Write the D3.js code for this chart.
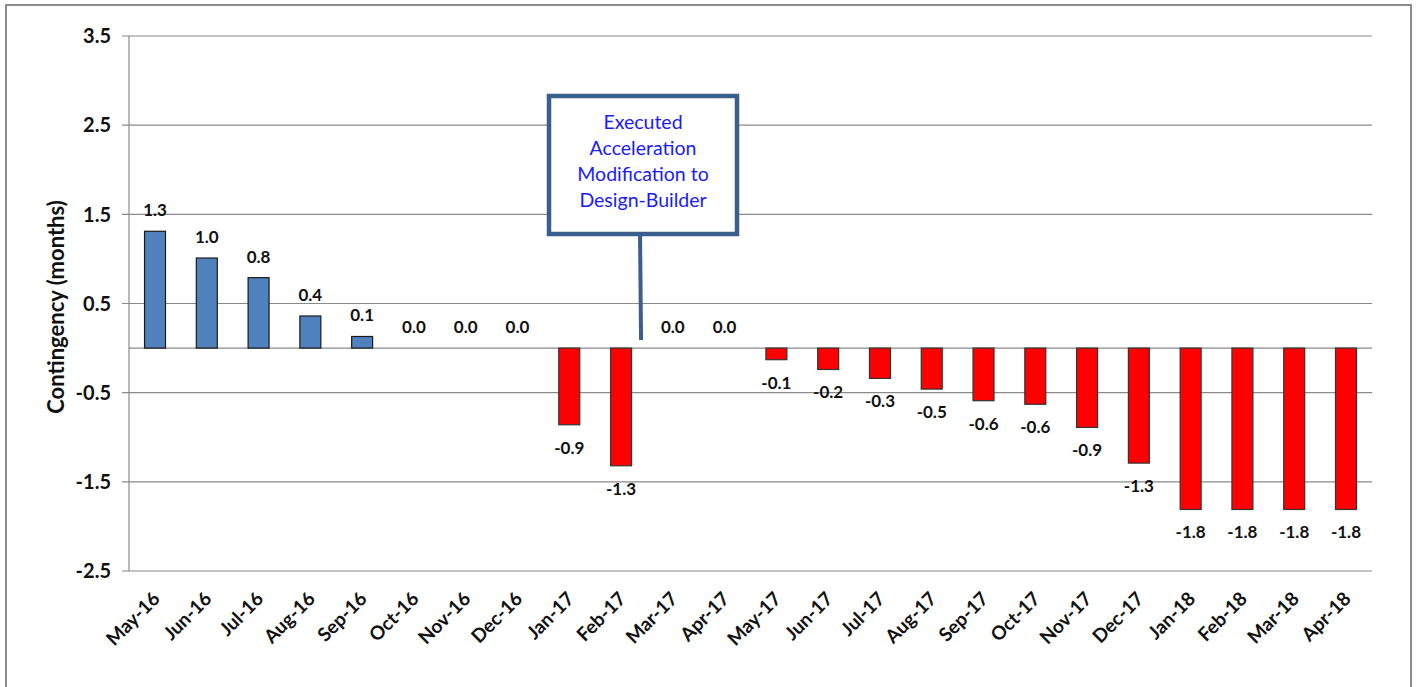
<!DOCTYPE html>
<html>
<head>
<meta charset="utf-8">
<script src="https://cdn.jsdelivr.net/npm/d3@7"></script>
<style>
  body { margin: 0; background: #fff; }
  svg { display: block; font-family: "Lato", "Open Sans", sans-serif; }
</style>
</head>
<body>
<svg id="chart" width="1417" height="687"></svg>
<script>
const months = ["May-16", "Jun-16", "Jul-16", "Aug-16", "Sep-16", "Oct-16", "Nov-16", "Dec-16",
  "Jan-17", "Feb-17", "Mar-17", "Apr-17", "May-17", "Jun-17", "Jul-17", "Aug-17", "Sep-17",
  "Oct-17", "Nov-17", "Dec-17", "Jan-18", "Feb-18", "Mar-18", "Apr-18"];
const contingency = [1.31, 1.01, 0.79, 0.36, 0.13, 0, 0, 0,
  -0.86, -1.32, 0, 0, -0.13, -0.24, -0.34, -0.46, -0.59,
  -0.63, -0.89, -1.29, -1.81, -1.81, -1.81, -1.81];
const yTicks = [3.5, 2.5, 1.5, 0.5, -0.5, -1.5, -2.5];
const noteLines = ["Executed", "Acceleration", "Modification to", "Design-Builder"];
const noteMonth = "Feb-17";

const svg = d3.select("#chart");

// outer frame like the pasted chart
svg.append("rect")
  .attr("x", 6).attr("y", 5).attr("width", 1405).attr("height", 700)
  .attr("fill", "#fff").attr("stroke", "#8c8c8c").attr("stroke-width", 2);

const plotLeft = 129, plotRight = 1372, plotTop = 36, plotBottom = 571;

const x = d3.scaleBand().domain(months).range([plotLeft, plotRight]).paddingInner(0.595).paddingOuter(0.3);
const y = d3.scaleLinear().domain([-2.5, 3.5]).range([plotBottom, plotTop]);

// gridlines
svg.append("g").selectAll("line").data(yTicks).join("line")
  .attr("x1", plotLeft - 7).attr("x2", plotRight)
  .attr("y1", d => y(d)).attr("y2", d => y(d))
  .attr("stroke", "#8a8a8a").attr("stroke-width", 1.2);

// zero line
svg.append("line")
  .attr("x1", plotLeft).attr("x2", plotRight).attr("y1", y(0)).attr("y2", y(0))
  .attr("stroke", "#8a8a8a").attr("stroke-width", 1.2);

// vertical axis line
svg.append("line")
  .attr("x1", plotLeft).attr("x2", plotLeft).attr("y1", plotTop).attr("y2", plotBottom)
  .attr("stroke", "#8a8a8a").attr("stroke-width", 1.2);

// y tick labels
svg.append("g").selectAll("text").data(yTicks).join("text")
  .attr("x", 111).attr("y", d => y(d))
  .attr("dy", "0.36em")
  .attr("text-anchor", "end")
  .attr("font-size", 20).attr("font-weight", "bold").attr("fill", "#111")
  .text(d => d.toFixed(1));

// y axis title
svg.append("text")
  .attr("transform", "translate(64,307) rotate(-90)")
  .attr("text-anchor", "middle")
  .attr("font-size", 22).attr("font-weight", "bold").attr("fill", "#111")
  .text("Contingency (months)");

// bars
svg.append("g").selectAll("rect").data(contingency).join("rect")
  .attr("x", (d, i) => x(months[i]))
  .attr("width", x.bandwidth())
  .attr("y", d => y(Math.max(0, d)))
  .attr("height", d => Math.abs(y(d) - y(0)))
  .attr("fill", d => d > 0 ? "#4f81bd" : "#ff0000")
  .attr("stroke", d => d > 0 ? "#1a1a1a" : "#333")
  .attr("stroke-width", 1.2);

// data labels
svg.append("g").selectAll("text").data(contingency).join("text")
  .attr("x", (d, i) => x(months[i]) + x.bandwidth() / 2)
  .attr("y", d => d >= 0 ? y(d) - 15 : y(d) + 29)
  .attr("text-anchor", "middle")
  .attr("font-size", 17).attr("font-weight", "bold").attr("fill", "#111")
  .text(d => d.toFixed(1));

// x labels, rotated
svg.append("g").selectAll("text").data(months).join("text")
  .attr("transform", d => `translate(${x(d) + x.bandwidth() / 2 + 6},${plotBottom + 29}) rotate(-45)`)
  .attr("text-anchor", "end")
  .attr("font-size", 19).attr("font-weight", "bold").attr("fill", "#111")
  .text(d => d);

// annotation callout
const noteX = x(noteMonth) + x.bandwidth() / 2 + 20;
svg.append("line")
  .attr("x1", noteX - 1).attr("y1", 236).attr("x2", noteX).attr("y2", 340)
  .attr("stroke", "#3b5f8c").attr("stroke-width", 4);
svg.append("rect")
  .attr("x", 549).attr("y", 96).attr("width", 188).attr("height", 138)
  .attr("fill", "#fff").attr("stroke", "#3b5f8c").attr("stroke-width", 4.5);
svg.append("g").selectAll("text").data(noteLines).join("text")
  .attr("x", 643).attr("y", (d, i) => 129 + i * 26)
  .attr("text-anchor", "middle")
  .attr("font-size", 19.5).attr("fill", "#1a1aff")
  .text(d => d);
</script>
</body>
</html>
